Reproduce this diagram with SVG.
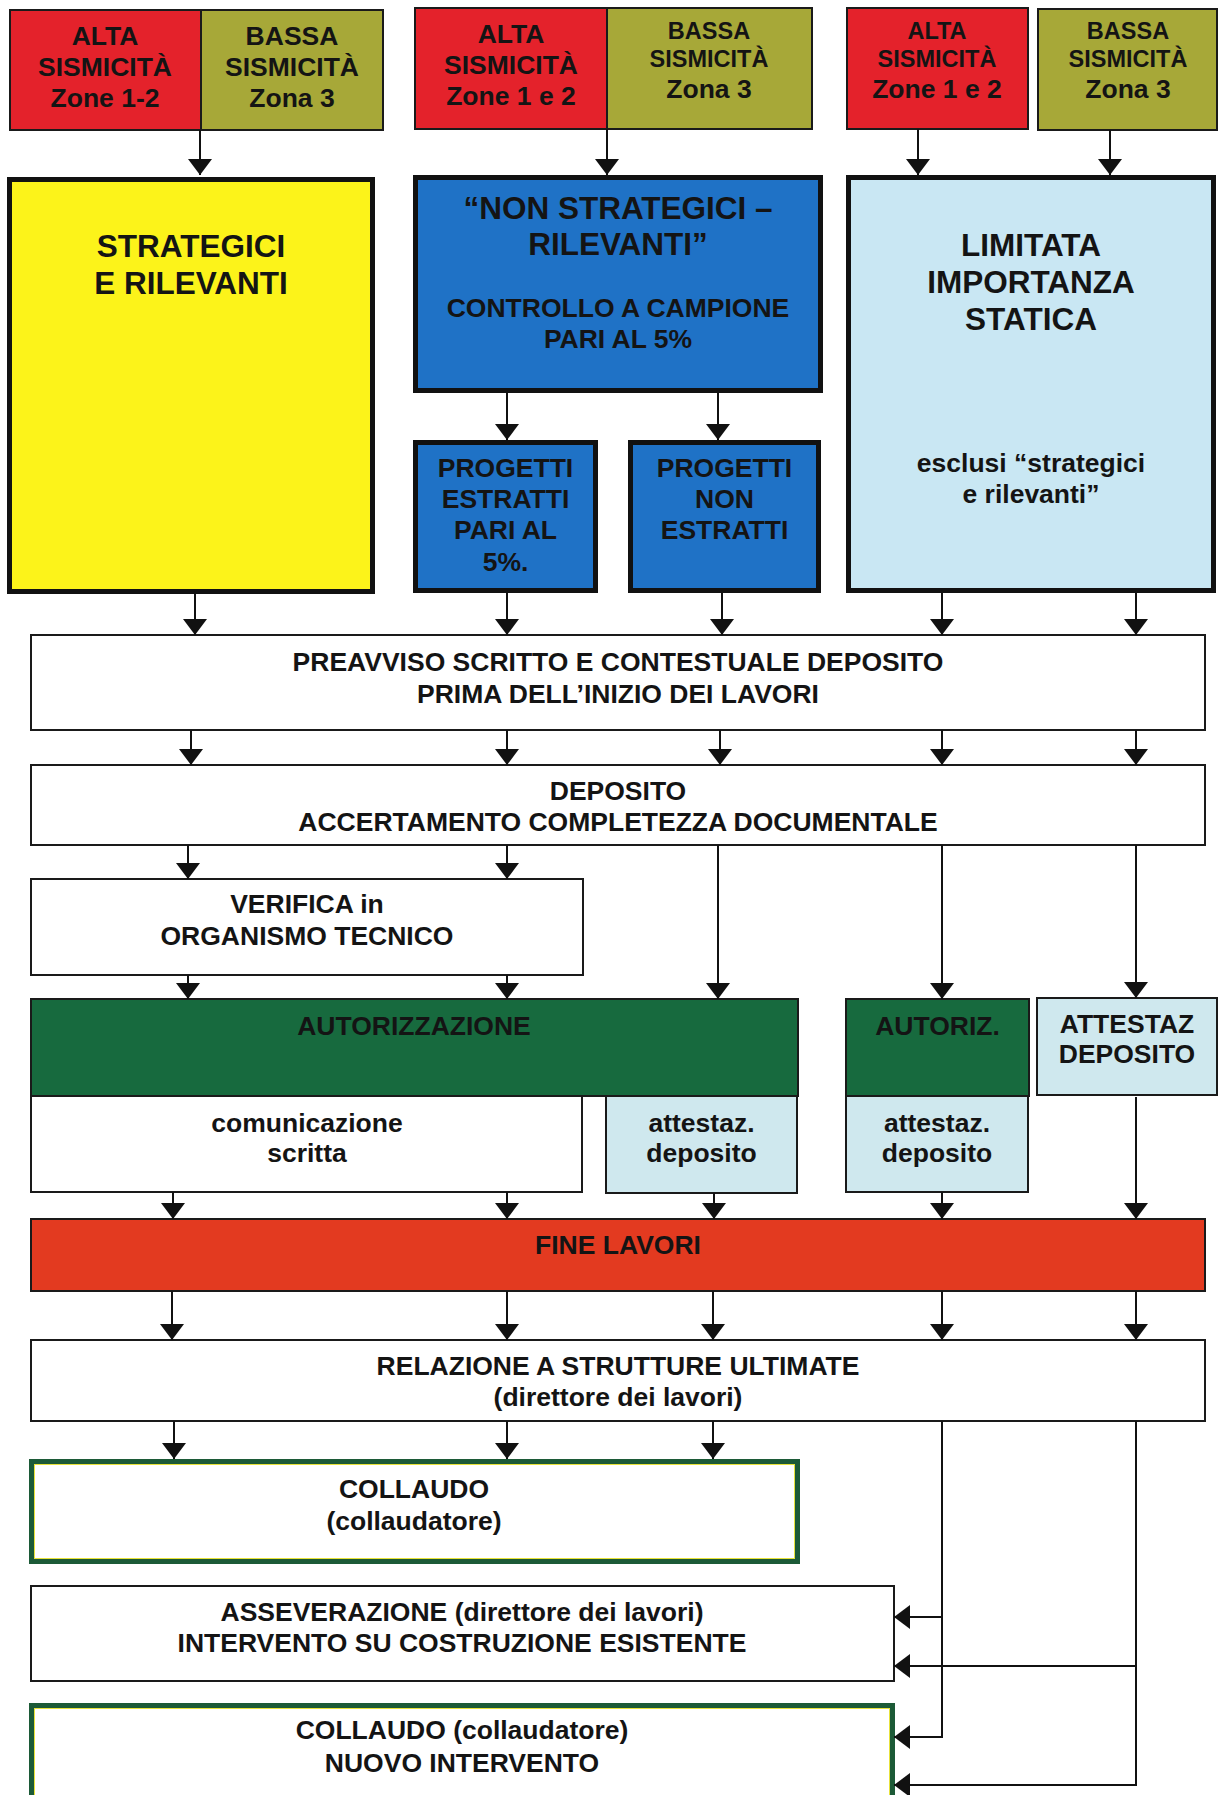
<svg xmlns="http://www.w3.org/2000/svg" width="1218" height="1795" viewBox="0 0 1218 1795">
<defs>
<style>
text{font-family:"Liberation Sans",Arial,sans-serif;font-weight:bold;text-anchor:middle;fill:#141414}
.t26{font-size:26.5px}
.t23{font-size:23.5px}
.big{font-size:31.5px}
.thin{stroke:#1a1a1a;stroke-width:2}
.thick{stroke:#111;stroke-width:5}
.red{fill:#e4222b}
.olive{fill:#a7a838}
.yellow{fill:#fcf31a}
.blue{fill:#1f72c6}
.lblue{fill:#c9e7f3}
.green{fill:#176a3e}
.att{fill:#cfe8ee}
.white{fill:#ffffff}
.fine{fill:#e33a20}
.coll{fill:#ffffff;stroke:#1c5a37;stroke-width:5}
.collin{fill:none;stroke:#e8e23a;stroke-width:1}
.conn{fill:none;stroke:#111;stroke-width:2}
</style>
<marker id="ah" viewBox="0 0 16 24" refX="16" refY="12" markerWidth="16" markerHeight="24" markerUnits="userSpaceOnUse" orient="auto">
<path d="M0,0 L16,12 L0,24 z" fill="#111"/>
</marker>
</defs>
<rect x="0" y="0" width="1218" height="1795" fill="#ffffff"/>

<g id="top-a">
<rect x="10" y="10" width="191" height="120" class="red thin"/>
<rect x="201" y="10" width="182" height="120" class="olive thin"/>
<text class="t26" x="105" y="45">ALTA</text>
<text class="t26" x="105" y="76">SISMICITÀ</text>
<text class="t26" x="105" y="107">Zone 1-2</text>
<text class="t26" x="292" y="45">BASSA</text>
<text class="t26" x="292" y="76">SISMICITÀ</text>
<text class="t26" x="292" y="107">Zona 3</text>
</g>

<g id="top-b">
<rect x="415" y="8" width="192" height="121" class="red thin"/>
<rect x="607" y="8" width="205" height="121" class="olive thin"/>
<text class="t26" x="511" y="43">ALTA</text>
<text class="t26" x="511" y="74">SISMICITÀ</text>
<text class="t26" x="511" y="105">Zone 1 e 2</text>
<text class="t23" x="709" y="39">BASSA</text>
<text class="t23" x="709" y="67">SISMICITÀ</text>
<text class="t26" x="709" y="98">Zona 3</text>
</g>

<g id="top-c-alta">
<rect x="847" y="8" width="181" height="121" class="red thin"/>
<text class="t23" x="937" y="39">ALTA</text>
<text class="t23" x="937" y="67">SISMICITÀ</text>
<text class="t26" x="937" y="98">Zone 1 e 2</text>
</g>

<g id="top-c-bassa">
<rect x="1038" y="9" width="179" height="121" class="olive thin"/>
<text class="t23" x="1128" y="39">BASSA</text>
<text class="t23" x="1128" y="67">SISMICITÀ</text>
<text class="t26" x="1128" y="98">Zona 3</text>
</g>

<g id="strategici">
<rect x="9.5" y="179.5" width="363" height="412" class="yellow thick"/>
<text class="big" x="191" y="257">STRATEGICI</text>
<text class="big" x="191" y="294">E RILEVANTI</text>
</g>

<g id="non-strategici">
<rect x="415.5" y="177.5" width="405" height="213" class="blue thick"/>
<text class="big" x="618" y="219">“NON STRATEGICI –</text>
<text class="big" x="618" y="255">RILEVANTI”</text>
<text class="t26" x="618" y="317">CONTROLLO A CAMPIONE</text>
<text class="t26" x="618" y="348">PARI AL 5%</text>
</g>

<g id="limitata">
<rect x="848.5" y="177.5" width="365" height="413" class="lblue thick"/>
<text class="big" x="1031" y="256">LIMITATA</text>
<text class="big" x="1031" y="293">IMPORTANZA</text>
<text class="big" x="1031" y="330">STATICA</text>
<text class="t26" x="1031" y="472">esclusi “strategici</text>
<text class="t26" x="1031" y="503">e rilevanti”</text>
</g>

<g id="estratti">
<rect x="415.5" y="442.5" width="180" height="148" class="blue thick"/>
<text class="t26" x="505.5" y="477">PROGETTI</text>
<text class="t26" x="505.5" y="508">ESTRATTI</text>
<text class="t26" x="505.5" y="539">PARI AL</text>
<text class="t26" x="505.5" y="571">5%.</text>
</g>

<g id="non-estratti">
<rect x="630.5" y="442.5" width="188" height="148" class="blue thick"/>
<text class="t26" x="724.5" y="477">PROGETTI</text>
<text class="t26" x="724.5" y="508">NON</text>
<text class="t26" x="724.5" y="539">ESTRATTI</text>
</g>

<g id="preavviso">
<rect x="31" y="635" width="1174" height="95" class="white thin"/>
<text class="t26" x="618" y="671">PREAVVISO SCRITTO E CONTESTUALE DEPOSITO</text>
<text class="t26" x="618" y="703">PRIMA DELL’INIZIO DEI LAVORI</text>
</g>

<g id="deposito">
<rect x="31" y="765" width="1174" height="80" class="white thin"/>
<text class="t26" x="618" y="800">DEPOSITO</text>
<text class="t26" x="618" y="831">ACCERTAMENTO COMPLETEZZA DOCUMENTALE</text>
</g>

<g id="verifica">
<rect x="31" y="879" width="552" height="96" class="white thin"/>
<text class="t26" x="307" y="913">VERIFICA in</text>
<text class="t26" x="307" y="945">ORGANISMO TECNICO</text>
</g>

<g id="autorizzazione">
<rect x="31" y="999" width="767" height="97" class="green thin"/>
<text class="t26" x="414" y="1035">AUTORIZZAZIONE</text>
</g>

<g id="comunicazione">
<rect x="31" y="1096" width="551" height="96" class="white thin"/>
<text class="t26" x="307" y="1132">comunicazione</text>
<text class="t26" x="307" y="1162">scritta</text>
</g>

<g id="attestaz-1">
<rect x="606" y="1096" width="191" height="97" class="att thin"/>
<text class="t26" x="701.5" y="1132">attestaz.</text>
<text class="t26" x="701.5" y="1162">deposito</text>
</g>

<g id="autoriz">
<rect x="846" y="999" width="183" height="97" class="green thin"/>
<text class="t26" x="937.5" y="1035">AUTORIZ.</text>
</g>

<g id="attestaz-2">
<rect x="846" y="1096" width="182" height="96" class="att thin"/>
<text class="t26" x="937" y="1132">attestaz.</text>
<text class="t26" x="937" y="1162">deposito</text>
</g>

<g id="attestaz-deposito">
<rect x="1037" y="998" width="180" height="97" class="att thin"/>
<text class="t26" x="1127" y="1033">ATTESTAZ</text>
<text class="t26" x="1127" y="1063">DEPOSITO</text>
</g>

<g id="fine-lavori">
<rect x="31" y="1219" width="1174" height="72" class="fine thin"/>
<text class="t26" x="618" y="1254">FINE LAVORI</text>
</g>

<g id="relazione">
<rect x="31" y="1340" width="1174" height="81" class="white thin"/>
<text class="t26" x="618" y="1375">RELAZIONE A STRUTTURE ULTIMATE</text>
<text class="t26" x="618" y="1406">(direttore dei lavori)</text>
</g>

<g id="collaudo">
<rect x="31.5" y="1461.5" width="766" height="100" class="coll"/>
<rect x="34.5" y="1464.5" width="760" height="94" class="collin"/>
<text class="t26" x="414" y="1498">COLLAUDO</text>
<text class="t26" x="414" y="1530">(collaudatore)</text>
</g>

<g id="asseverazione">
<rect x="31" y="1586" width="863" height="95" class="white thin"/>
<text class="t26" x="462" y="1621">ASSEVERAZIONE (direttore dei lavori)</text>
<text class="t26" x="462" y="1652">INTERVENTO SU COSTRUZIONE ESISTENTE</text>
</g>

<g id="collaudo-nuovo">
<rect x="31.5" y="1705.5" width="861" height="110" class="coll"/>
<rect x="34.5" y="1708.5" width="855" height="104" class="collin"/>
<text class="t26" x="462" y="1739">COLLAUDO (collaudatore)</text>
<text class="t26" x="462" y="1772">NUOVO INTERVENTO</text>
</g>

<g id="connectors" class="conn">
<path d="M200,130 V175" marker-end="url(#ah)"/>
<path d="M607,129 V175" marker-end="url(#ah)"/>
<path d="M918,129 V175" marker-end="url(#ah)"/>
<path d="M1110,130 V175" marker-end="url(#ah)"/>
<path d="M507,393 V440" marker-end="url(#ah)"/>
<path d="M718,393 V440" marker-end="url(#ah)"/>
<path d="M195,594 V635" marker-end="url(#ah)"/>
<path d="M507,593 V635" marker-end="url(#ah)"/>
<path d="M722,593 V635" marker-end="url(#ah)"/>
<path d="M942,593 V635" marker-end="url(#ah)"/>
<path d="M1136,593 V635" marker-end="url(#ah)"/>
<path d="M191,730 V765" marker-end="url(#ah)"/>
<path d="M507,730 V765" marker-end="url(#ah)"/>
<path d="M720,730 V765" marker-end="url(#ah)"/>
<path d="M942,730 V765" marker-end="url(#ah)"/>
<path d="M1136,730 V765" marker-end="url(#ah)"/>
<path d="M188,845 V879" marker-end="url(#ah)"/>
<path d="M507,845 V879" marker-end="url(#ah)"/>
<path d="M718,845 V999" marker-end="url(#ah)"/>
<path d="M942,845 V999" marker-end="url(#ah)"/>
<path d="M1136,845 V998" marker-end="url(#ah)"/>
<path d="M188,975 V999" marker-end="url(#ah)"/>
<path d="M507,975 V999" marker-end="url(#ah)"/>
<path d="M173,1192 V1219" marker-end="url(#ah)"/>
<path d="M507,1192 V1219" marker-end="url(#ah)"/>
<path d="M714,1193 V1219" marker-end="url(#ah)"/>
<path d="M942,1192 V1219" marker-end="url(#ah)"/>
<path d="M1136,1097 V1219" marker-end="url(#ah)"/>
<path d="M172,1291 V1340" marker-end="url(#ah)"/>
<path d="M507,1291 V1340" marker-end="url(#ah)"/>
<path d="M713,1291 V1340" marker-end="url(#ah)"/>
<path d="M942,1291 V1340" marker-end="url(#ah)"/>
<path d="M1136,1291 V1340" marker-end="url(#ah)"/>
<path d="M174,1421 V1459" marker-end="url(#ah)"/>
<path d="M507,1421 V1459" marker-end="url(#ah)"/>
<path d="M713,1421 V1459" marker-end="url(#ah)"/>
<path d="M942,1421 V1737 H894" marker-end="url(#ah)"/>
<path d="M942,1617 H894" marker-end="url(#ah)"/>
<path d="M1136,1421 V1785 H894" marker-end="url(#ah)"/>
<path d="M1136,1666 H894" marker-end="url(#ah)"/>
</g>
</svg>
